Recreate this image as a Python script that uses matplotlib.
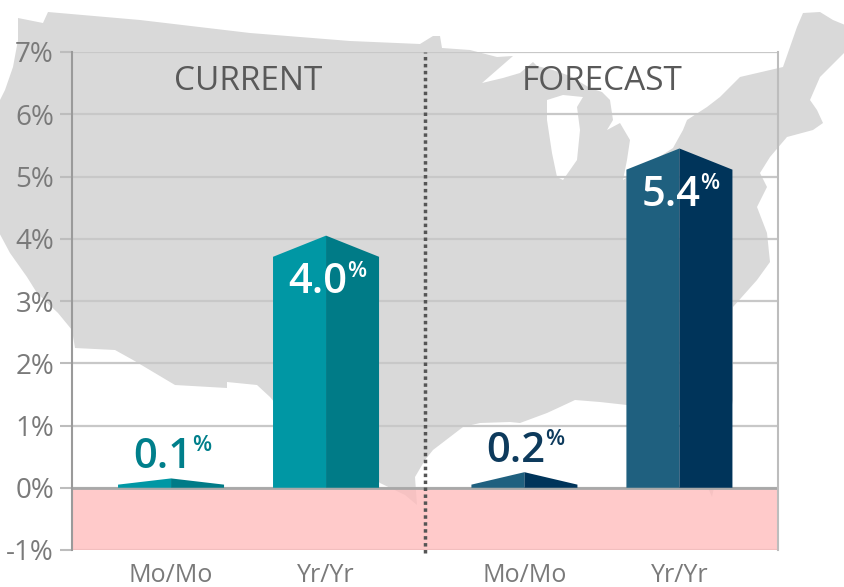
import matplotlib.pyplot as plt
from matplotlib.patches import Polygon

plt.rcParams['font.family'] = ['Open Sans', 'DejaVu Sans']

# chart data
sections = ['CURRENT', 'FORECAST']
periods = ['Mo/Mo', 'Yr/Yr', 'Mo/Mo', 'Yr/Yr']
values = [0.1, 4.0, 0.2, 5.4]
section_of_bar = [0, 0, 1, 1]
y_ticks = [-1, 0, 1, 2, 3, 4, 5, 6, 7]

left_face = ['#0097a4', '#0097a4', '#1f607f', '#1f607f']
right_face = ['#007b87', '#007b87', '#00345a', '#00345a']
label_color = ['#007f8b', 'white', '#0d3a5c', 'white']

# rough US outline drawn behind the chart, in figure pixels (decoration only)
us_outline = [
    (48, 12), (140, 20), (250, 33), (350, 41), (420, 44), (433, 36), (440, 36),
    (442, 48), (470, 50), (497, 57), (513, 56), (482, 83), (503, 78), (520, 73),
    (533, 62), (537, 66), (553, 70), (570, 76), (590, 88), (602, 92), (610, 100),
    (613, 120), (607, 130), (620, 123), (630, 140), (627, 160), (623, 180),
    (650, 163), (673, 148), (683, 130), (687, 120), (707, 107), (720, 97),
    (740, 77), (783, 67), (797, 27), (803, 13), (820, 12), (833, 20), (850, 27),
    (850, 47), (820, 77), (810, 100), (817, 110), (823, 123), (813, 130),
    (787, 137), (770, 157), (760, 173), (767, 187), (757, 207), (767, 233),
    (770, 262), (757, 280), (733, 307), (733, 400), (712, 497), (700, 470),
    (680, 410), (627, 405), (600, 402), (575, 400), (560, 407), (547, 413),
    (520, 423), (510, 422), (480, 423), (463, 427), (433, 450), (425, 460),
    (415, 477), (417, 505), (405, 495), (380, 483), (330, 440), (275, 403),
    (270, 397), (257, 385), (227, 382), (227, 388), (175, 385), (133, 360),
    (115, 350), (75, 348), (72, 330), (58, 313), (37, 293), (27, 277),
    (10, 253), (-5, 225), (-5, 110), (5, 90), (13, 67), (18, 40), (18, 18),
    (43, 23),
]
lake_michigan = [
    (563, 95), (547, 100), (547, 120), (552, 153), (557, 177), (563, 180),
    (577, 160), (580, 130), (577, 107), (583, 97),
]

fig = plt.figure(figsize=(8.45, 5.87), dpi=100)

# background map
bg = fig.add_axes([0, 0, 1, 1], zorder=0)
bg.set_xlim(0, 845)
bg.set_ylim(587, 0)
bg.axis('off')
bg.add_patch(Polygon(us_outline, closed=True, color='#d9d9d9', lw=0))
bg.add_patch(Polygon(lake_michigan, closed=True, color='white', lw=0))

ax = fig.add_axes([72 / 845, 1 - 550 / 587, 706 / 845, 498 / 587], zorder=1)
ax.set_facecolor('none')

pos = [i + 0.28 * s for i, s in enumerate(section_of_bar)]
bar_w = 0.684

ax.set_xlim(-0.639, 3.916)
ax.set_ylim(-1, 7)

# negative zone
ax.axhspan(-1, 0, color='#ffbcbc', alpha=0.78, lw=0, zorder=1)
ax.axhline(0, color='#a8a8a8', lw=2, zorder=2)

ax.set_yticks(y_ticks)
ax.set_yticklabels([f'{t}%' for t in y_ticks])
ax.yaxis.grid(True, color='#c8c8c8', lw=1.6)
ax.set_axisbelow(True)

ax.set_xticks(pos)
ax.set_xticklabels(periods)

for i, v in enumerate(values):
    x = pos[i]
    hw = bar_w / 2
    peak = v + 0.05
    shoulder = max(peak - 0.34, 0.05)
    ax.add_patch(Polygon([(x - hw, 0), (x - hw, shoulder), (x, peak), (x, 0)],
                         closed=True, color=left_face[i], lw=0, zorder=3))
    ax.add_patch(Polygon([(x, 0), (x, peak), (x + hw, shoulder), (x + hw, 0)],
                         closed=True, color=right_face[i], lw=0, zorder=3))
    if v > 1:
        ybase = v - 0.87
    else:
        ybase = v + 0.22
    t = ax.annotate(f'{v:.1f}', xy=(x, ybase), xytext=(-6, 0),
                    textcoords='offset points', ha='center', va='baseline',
                    fontsize=30, weight='semibold', color=label_color[i], zorder=4)
    ax.annotate('%', xy=(1, 0.86), xycoords=t, xytext=(0, 4.5),
                textcoords='offset points', ha='left', va='top',
                fontsize=16, weight='semibold', color=label_color[i], zorder=4)

# section headers and divider
for s, name in enumerate(sections):
    xs = [pos[i] for i in range(len(pos)) if section_of_bar[i] == s]
    ax.text(sum(xs) / len(xs), 6.53, name, ha='center', va='center',
            fontsize=24, color='#595959')

div_x = (pos[1] + pos[2]) / 2
ax.plot([div_x, div_x], [-1.05, 7], color='#555555', lw=2.5,
        linestyle=(0, (1, 1)), clip_on=False, zorder=5)

for side in ['top', 'bottom']:
    ax.spines[side].set_visible(False)
ax.spines['left'].set_color('#9a9a9a')
ax.spines['left'].set_linewidth(1.5)
ax.spines['right'].set_color('#bdbdbd')
ax.spines['right'].set_linewidth(1.5)

ax.tick_params(axis='y', length=9, width=1.5, color='#bdbdbd', pad=4,
               labelsize=20, labelcolor='#7a7a7a')
ax.tick_params(axis='x', length=0, pad=9, labelsize=18, labelcolor='#7a7a7a')

plt.savefig('out.png', dpi=100)
